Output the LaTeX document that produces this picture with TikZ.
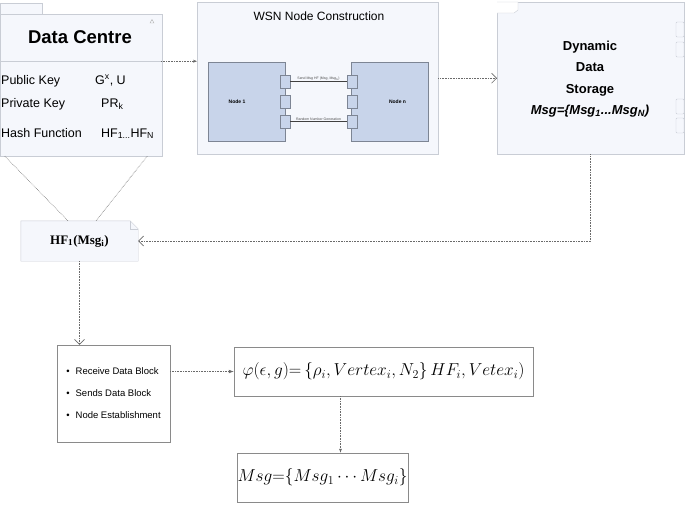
\documentclass[tikz,border=0pt]{standalone}
\usepackage{fontspec}
\setmainfont{Liberation Sans}
\newfontfamily\timesfont{Liberation Serif}
\usetikzlibrary{positioning,arrows.meta,backgrounds}
\definecolor{panelfill}{HTML}{F5F7FC}
\definecolor{panelline}{HTML}{C9CDD5}
\definecolor{nodefill}{HTML}{C8D4EA}
\definecolor{nodeline}{HTML}{7D8594}
\definecolor{boxline}{HTML}{8A8A8A}
\definecolor{linkgray}{HTML}{6A6A6A}
\tikzset{panel/.style={draw=panelline,fill=panelfill,inner sep=0pt},
  wsn node/.style={draw=nodeline,fill=nodefill,minimum width=77pt,minimum height=79pt,inner sep=0pt},
  node name/.style={font=\bfseries\fontsize{5}{6}\selectfont},
  port/.style={draw=nodeline,fill=nodefill,minimum width=10pt,minimum height=13pt,inner sep=0pt},
  port label/.style={font=\fontsize{3.5}{4}\selectfont,text=black!70,inner sep=0.5pt},
  row text/.style={anchor=base west,inner sep=0pt,font=\fontsize{12.5}{14}\selectfont},
  plain box/.style={draw=boxline,fill=white,inner sep=0pt},
  link/.style={densely dotted,draw=linkgray,semithick},
}

\begin{document}
\begin{tikzpicture}[x=1pt,y=-1pt]
        \useasboundingbox (0,0) rectangle (685,504);
        % Nodes
        \draw[panelline,fill=panelfill] (0,3) rectangle (42,14);
        \node[panel,minimum width=162pt,minimum height=142pt] (dc) at (81,85) {};
        \node[inner sep=0pt,minimum width=162pt,minimum height=47pt,font=\bfseries\fontsize{18.5}{20}\selectfont] (dchead) at (80,37.5) {Data Centre};
        \draw[panelline] (dchead.south west) -- (dchead.south east);
        \draw[black!30] (150,23) -- (152,19.5) -- (154,23) -- cycle;
        \node[row text] (pk) at (1,84) {Public Key};
        \node[row text] (pkval) at (95,84) {G\textsuperscript{x}, U};
        \node[row text] (prk) at (1,107) {Private Key};
        \node[row text] (prkval) at (101,107) {PR\textsubscript{k}};
        \node[row text] (hfn) at (1,137) {Hash Function};
        \node[row text] (hfnval) at (101,137) {HF\textsubscript{1...}HF\textsubscript{N}};

        \node[panel,minimum width=241pt,minimum height=152pt,anchor=north west] (wsn) at (197,2) {};
        \node[anchor=base,font=\fontsize{12}{14}\selectfont] (wsntitle) at (319,20) {WSN Node Construction};
        \node[wsn node,label={[node name,xshift=-10pt]center:Node 1}] (n1) at (247,101.5) {};
        \node[wsn node,label={[node name,xshift=8pt]center:Node n}] (nn) at (389.5,101.5) {};
        \foreach \y [count=\i] in {81.5,101.5,121.5} {
            \node[port] (pa\i) at (285,\y) {};
            \node[port] (pb\i) at (352,\y) {};
        }

        \node[panel,minimum width=187pt,minimum height=152pt,anchor=north west] (dds) at (497,2) {};
        \draw[panelline,fill=white] (497,2) -- (518,2) -- (518,10) -- (514,13) -- (497,13);
        \foreach \y in {22,42,99,118}
            \draw[panelline,fill=panelfill,rounded corners=1pt] (676,\y) rectangle (684,\y+15);
        \node[align=center,font=\bfseries\fontsize{13}{21.5}\selectfont] (ddstext) at (590,79) {Dynamic\\Data\\Storage\\\textit{Msg=\{Msg\textsubscript{1}...Msg\textsubscript{N})}};

        \node[inner sep=0pt,minimum width=117pt,minimum height=40pt,font=\timesfont\bfseries\fontsize{13}{15}\selectfont] (hf) at (79.5,241) {HF\textsubscript{1}(Msg\textsubscript{i})};
        \begin{scope}[on background layer]
            \draw[panelline,fill=panelfill] (hf.south west) -- (hf.north west) -- ([xshift=-8pt]hf.north east) -- ([yshift=-8pt]hf.north east) -- (hf.south east) -- cycle;
            \draw[panelline] ([xshift=-8pt]hf.north east) -- ([xshift=-8pt,yshift=-8pt]hf.north east) -- ([yshift=-8pt]hf.north east);
        \end{scope}

        \node[plain box,minimum width=113pt,minimum height=97pt,align=left,font=\fontsize{9.5}{22}\selectfont] (rcv) at (113.5,393.5) {\textbullet\hspace{6pt}Receive Data Block\\\textbullet\hspace{6pt}Sends Data Block\\\textbullet\hspace{6pt}Node Establishment};
        \node[plain box,minimum width=299pt,minimum height=49pt,font=\fontsize{17.5}{22}\selectfont] (phi) at (383.5,371.5) {$\varphi(\epsilon,g){=}\left\{\rho_i,Vertex_i,N_2\right\}HF_i,Vetex_i)$};
        \node[plain box,minimum width=171pt,minimum height=49pt,font=\fontsize{17}{22}\selectfont] (msg) at (322.5,477.5) {$Msg{=}\{Msg_1\cdots Msg_i\}$};

        % Paths
        \path[draw=black!75]
        (pa1) edge node[above,port label] {Send Msg HF (Msg, Msg\textsubscript{N})} (pb1)
        (pa3) edge node[above,port label] {Random Number Generation} (pb3);
        \draw[link,-{Stealth[length=4pt]}] (dchead.south east) -- (dchead.south east -| wsn.west);
        \draw[link,-{Straight Barb[length=5pt]}] (wsn.east) -- (dds.west);
        \draw[link,-{Straight Barb[length=5pt]}] (dds.south) |- (hf.east);
        \draw[link] ([xshift=5pt]dc.south west) -- ([xshift=-11.5pt]hf.north);
        \draw[link] ([xshift=-15pt]dc.south east) -- ([xshift=16.5pt]hf.north);
        \draw[link,-{Straight Barb[length=5pt]}] (hf.south) -- (hf.south |- rcv.north);
        \draw[link,-{Latex[length=5pt]}] (rcv.east |- phi.west) -- (phi.west);
        \draw[link,-{Latex[length=4pt]}] ([xshift=18pt]msg.north |- phi.south) -- ([xshift=18pt]msg.north);
    \end{tikzpicture}
\end{document}
